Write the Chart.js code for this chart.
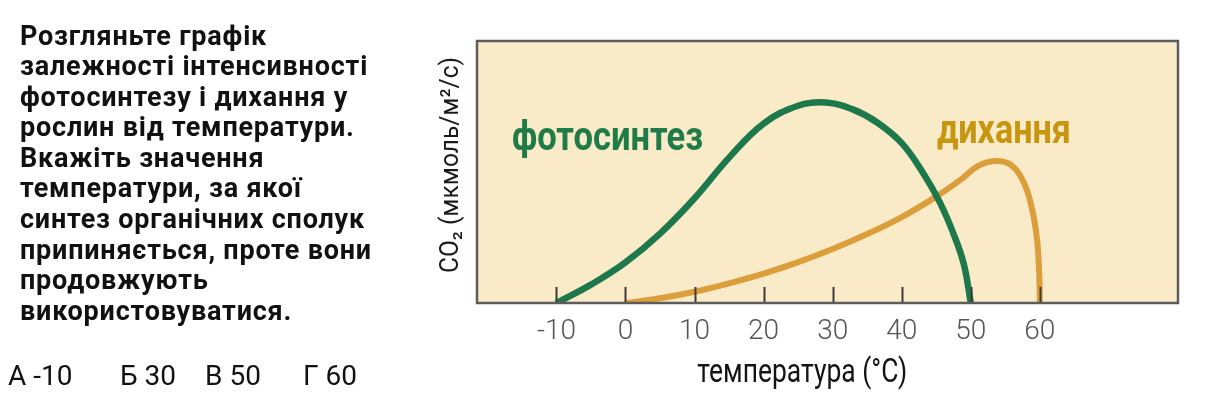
<!DOCTYPE html>
<html>
<head>
<meta charset="utf-8">
<script src="https://cdn.jsdelivr.net/npm/chart.js@4.4.1/dist/chart.umd.min.js"></script>
<style>
  html, body { margin: 0; padding: 0; background: #ffffff; }
  #wrap { position: relative; width: 1219px; height: 420px; overflow: hidden; }
  #c { position: absolute; left: 0; top: 0; }
  #q { position: absolute; left: 20px; top: 20.5px; font-family: Roboto, "Noto Sans", sans-serif; font-weight: 700;
       font-size: 27px; line-height: 30.6px; color: #111; letter-spacing: 0.8px; white-space: nowrap; }
  .ans { position: absolute; top: 362px; font-family: Roboto, "Noto Sans", sans-serif; font-weight: 400;
         font-size: 28px; line-height: 28px; color: #111; white-space: nowrap; }
</style>
</head>
<body>
<div id="wrap">
  <canvas id="c" width="1219" height="420" style="width:1219px;height:420px"></canvas>
  <div id="q">Розгляньте графік<br>залежності інтенсивності<br>фотосинтезу і дихання у<br>рослин від температури.<br>Вкажіть значення<br>температури, за якої<br>синтез органічних сполук<br>припиняється, проте вони<br>продовжують<br>використовуватися.</div>
  <span class="ans" style="left:8px">А -10</span>
  <span class="ans" style="left:120px">Б 30</span>
  <span class="ans" style="left:205px">В 50</span>
  <span class="ans" style="left:303px">Г 60</span>
</div>
<script>
// ---- data ----
const xTickValues = [-10, 0, 10, 20, 30, 40, 50, 60];
const xTickLabels = ['-10', '0', '10', '20', '30', '40', '50', '60'];

// photosynthesis (temperature °C, relative CO2 rate)
const photoT = [-10, -5, 0, 5, 10, 15, 20, 25, 29, 33, 36.5, 40, 43, 45.5, 47.5, 49, 50];
const photoV = [0, 7, 15.5, 26.5, 40, 55.5, 68.5, 75.3, 76.5, 73.8, 68.8, 61, 50, 38.5, 26.4, 14.7, 0];

// respiration
const respT = [0, 5, 10, 15, 20, 25, 30, 35, 40, 45, 48.5, 51, 53.5, 55.8, 57.7, 58.9, 59.6, 59.9, 60];
const respV = [0, 1.8, 4.3, 7.5, 11.2, 15.6, 20.6, 26.3, 32.8, 40.6, 47, 52.2, 54.2, 52.7, 45.8, 35.5, 24, 11.5, 0];

const seriesNames = ['фотосинтез', 'дихання'];
const xTitle = 'температура (°C)';
const yTitle = 'CO₂ (мкмоль/м²/с)';

// ---- styles ----
const GREEN = '#1d784b';
const ORANGE = '#dc9e3b';
const GREEN_TEXT = '#1f7b47';
const ORANGE_TEXT = '#c8950e';

const toPoints = (xs, ys) => xs.map((x, i) => ({ x: x, y: ys[i] }));

const decor = {
  id: 'decor',
  beforeDraw(chart) {
    const { ctx, chartArea: a } = chart;
    ctx.save();
    ctx.fillStyle = '#f9eac8';
    ctx.fillRect(a.left, a.top, a.right - a.left, a.bottom - a.top);
    ctx.restore();
  },
  afterDatasetsDraw(chart, args, opts) {
    const { ctx, chartArea: a, scales } = chart;
    const xs = scales.x, ys = scales.y;
    ctx.save();
    // inward tick marks
    ctx.strokeStyle = '#3a3a3a';
    ctx.lineWidth = 2;
    xTickValues.forEach(v => {
      const px = Math.round(xs.getPixelForValue(v)) + 0.5;
      ctx.beginPath();
      ctx.moveTo(px, a.bottom);
      ctx.lineTo(px, a.bottom - 16);
      ctx.stroke();
    });
    // frame
    ctx.strokeStyle = '#5c5c5c';
    ctx.lineWidth = 2.5;
    ctx.strokeRect(a.left, a.top, a.right - a.left, a.bottom - a.top);
    // series labels
    ctx.textBaseline = 'alphabetic';
    ctx.textAlign = 'left';
    (opts.labels || []).forEach(l => {
      ctx.font = l.font;
      ctx.fillStyle = l.color;
      ctx.fillText(l.text, xs.getPixelForValue(l.x), ys.getPixelForValue(l.y), l.maxWidth);
    });
    ctx.restore();
  },
  afterDraw(chart, args, opts) {
    const { ctx, chartArea: a, scales } = chart;
    const t = opts.titles;
    ctx.save();
    ctx.textAlign = 'center';
    ctx.textBaseline = 'alphabetic';
    // x axis title (condensed look via maxWidth)
    ctx.font = t.x.font;
    ctx.fillStyle = t.x.color;
    ctx.fillText(xTitle, scales.x.getPixelForValue(t.x.at), a.bottom + t.x.offset, t.x.maxWidth);
    // y axis title, rotated
    ctx.font = t.y.font;
    ctx.fillStyle = t.y.color;
    ctx.translate(a.left - t.y.offset, (a.top + a.bottom) / 2 - t.y.shift);
    ctx.rotate(-Math.PI / 2);
    ctx.fillText(yTitle, 0, 0, t.y.maxWidth);
    ctx.restore();
  }
};

new Chart(document.getElementById('c'), {
  type: 'line',
  data: {
    datasets: [
      { label: seriesNames[0], data: toPoints(photoT, photoV), borderColor: GREEN, borderWidth: 6.5,
        pointRadius: 0, tension: 0.4, fill: false },
      { label: seriesNames[1], data: toPoints(respT, respV), borderColor: ORANGE, borderWidth: 6,
        pointRadius: 0, tension: 0.4, fill: false }
    ]
  },
  options: {
    responsive: false,
    animation: false,
    events: [],
    layout: { padding: { left: 436, right: 41, top: 41, bottom: 0 } },
    scales: {
      x: {
        type: 'linear', min: -21.5, max: 80,
        afterBuildTicks: s => { s.ticks = xTickValues.map(v => ({ value: v })); },
        afterFit: s => { s.height = 117; },
        grid: { display: false, drawTicks: false },
        border: { display: false },
        ticks: {
          autoSkip: false, maxRotation: 0, padding: 12, color: '#555555',
          font: { family: 'Roboto', size: 28, weight: '300' },
          callback: (v) => { const i = xTickValues.indexOf(v); return i >= 0 ? xTickLabels[i] : ''; }
        },
        title: { display: false }
      },
      y: {
        type: 'linear', min: 0, max: 100,
        afterFit: s => { s.width = 41; },
        grid: { display: false, drawTicks: false },
        border: { display: false },
        ticks: { display: false },
        title: { display: false }
      }
    },
    plugins: {
      legend: { display: false },
      tooltip: { enabled: false },
      decor: {
        labels: [
          { text: seriesNames[0], x: -16.43, y: 58.4, font: 'bold 41px Roboto', color: GREEN_TEXT, maxWidth: 191 },
          { text: seriesNames[1], x: 45.1, y: 61.1, font: 'bold 41px Roboto', color: ORANGE_TEXT, maxWidth: 134 }
        ],
        titles: {
          x: { at: 25.6, offset: 79, font: '400 33px Roboto', color: '#141414', maxWidth: 210 },
          y: { offset: 19, shift: 7, font: '400 25px Roboto', color: '#1a1a1a', maxWidth: 216 }
        }
      }
    }
  },
  plugins: [decor]
});
</script>
</body>
</html>
